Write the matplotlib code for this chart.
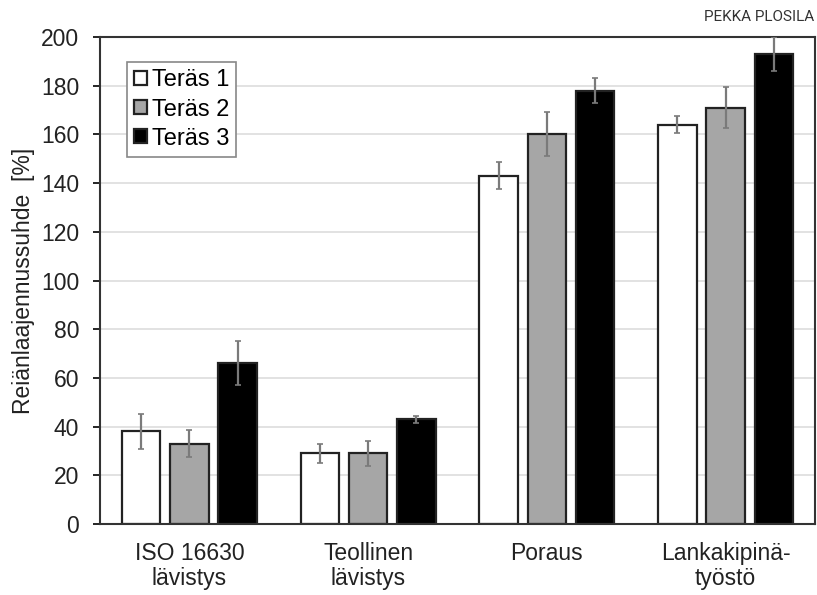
import matplotlib.pyplot as plt
import numpy as np

plt.rcParams['font.family'] = ['Liberation Sans', 'DejaVu Sans']

categories = ["ISO 16630\nlävistys", "Teollinen\nlävistys", "Poraus", "Lankakipinä-\ntyöstö"]
series_names = ["Teräs 1", "Teräs 2", "Teräs 3"]
teras1 = [38, 29, 143, 164]
teras2 = [33, 29, 160, 171]
teras3 = [66, 43, 178, 193]
teras1_err = [7, 4, 5.5, 3.5]
teras2_err = [5.5, 5, 9, 8.5]
teras3_err = [9, 1.5, 5, 7]
y_ticks = [0, 20, 40, 60, 80, 100, 120, 140, 160, 180, 200]

fig = plt.figure(figsize=(8.17, 5.95), dpi=100)
ax = fig.add_axes([0.1224, 0.1193, 0.8752, 0.8185])

x = np.arange(len(categories))
offsets = [-0.27, 0.0, 0.27]
colors = ["white", "#a6a6a6", "black"]
values = [teras1, teras2, teras3]
errors = [teras1_err, teras2_err, teras3_err]

for vals, errs, off, col, name in zip(values, errors, offsets, colors, series_names):
    ax.bar(x + off, vals, width=0.215, color=col, edgecolor="#222222", linewidth=1.6,
           label=name, zorder=2)
    ax.errorbar(x + off, vals, yerr=errs, fmt="none", ecolor="#7a7a7a", elinewidth=1.6,
                capsize=2, capthick=1.2, zorder=3)

ax.set_xlim(-0.5, 3.5)
ax.set_ylim(0, 200)
ax.set_yticks(y_ticks)
ax.set_xticks(x)
ax.set_xticklabels(categories, fontsize=16.5, color="#222222", linespacing=1.12)
ax.tick_params(axis="x", length=0, pad=13)
ax.tick_params(axis="y", length=5, width=1.2, labelsize=16.5, labelcolor="#222222", pad=10)
ax.yaxis.grid(True, color="#dddddd", linewidth=1.2, zorder=0)
ax.set_axisbelow(True)
for sp in ax.spines.values():
    sp.set_color("#333333")
    sp.set_linewidth(1.5)

ax.set_ylabel("Reiänlaajennussuhde  [%]", fontsize=16.5, color="#222222", labelpad=4)

leg = ax.legend(loc="upper left", bbox_to_anchor=(0.038, 0.948), fontsize=17,
                handlelength=0.55, handleheight=0.55, handletextpad=0.2,
                labelspacing=0.3, borderpad=0.3, borderaxespad=0.0,
                fancybox=False, framealpha=1)
leg.get_frame().set_edgecolor("#888888")
leg.get_frame().set_linewidth(1.2)

fig.text(0.997, 0.971, "PEKKA PLOSILA", ha="right", va="center", fontsize=11,
         family=["Roboto", "DejaVu Sans"], color="#333333")

fig.savefig("out.png", dpi=100)
